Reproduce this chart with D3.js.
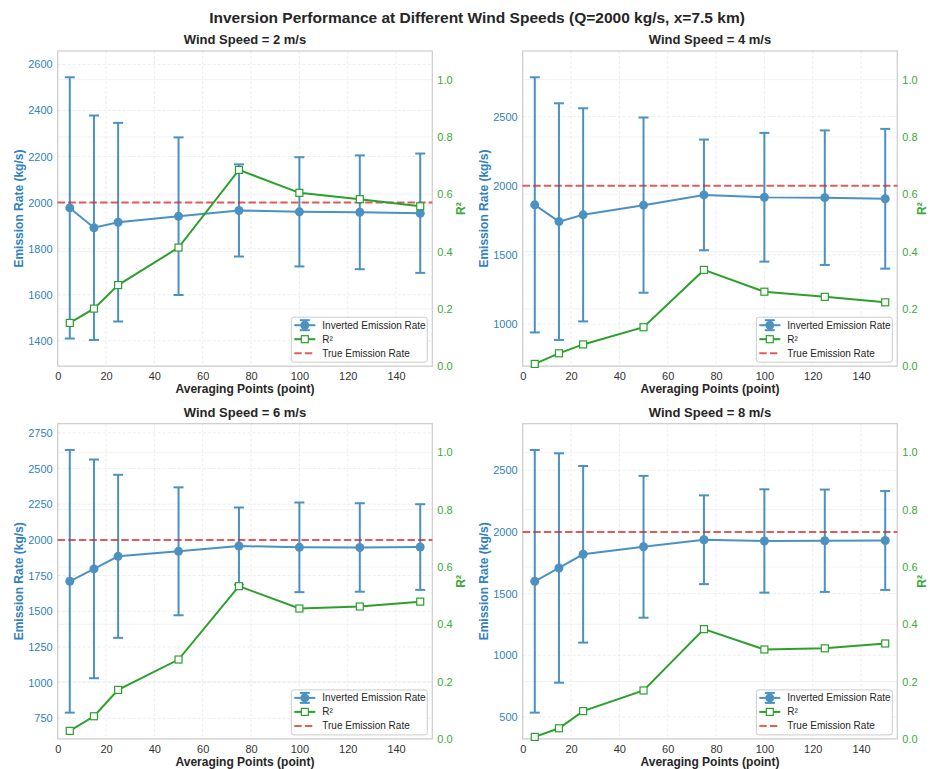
<!DOCTYPE html>
<html>
<head>
<meta charset="utf-8">
<script src="https://cdn.jsdelivr.net/npm/d3@7"></script>
<style>
  body { margin: 0; background: #fff; }
</style>
</head>
<body>
<div id="chart"></div>
<script>
// data
var points = [5, 15, 25, 50, 75, 100, 125, 150];
var windSpeeds = [2, 4, 6, 8];
var trueRate = 2000;

var rate2 = [1977, 1891, 1915, 1941, 1966, 1960, 1958, 1954];
var err2  = [567, 487, 431, 342, 200, 237, 247, 259];
var r2_2  = [0.151, 0.201, 0.283, 0.414, 0.685, 0.605, 0.583, 0.558];

var rate4 = [1862, 1741, 1790, 1860, 1934, 1917, 1914, 1906];
var err4  = [922, 855, 770, 633, 400, 465, 486, 505];
var r2_4  = [0.008, 0.045, 0.076, 0.136, 0.336, 0.260, 0.242, 0.223];

var rate6 = [1710, 1797, 1885, 1920, 1957, 1948, 1947, 1950];
var err6  = [920, 766, 571, 448, 270, 314, 310, 300];
var r2_6  = [0.028, 0.079, 0.171, 0.277, 0.533, 0.455, 0.462, 0.479];

var rate8 = [1600, 1708, 1819, 1880, 1937, 1927, 1929, 1931];
var err8  = [1065, 930, 716, 575, 360, 419, 415, 401];
var r2_8  = [0.007, 0.037, 0.097, 0.169, 0.383, 0.312, 0.316, 0.333];

var xTicks = [0, 20, 40, 60, 80, 100, 120, 140];
var r2Ticks = [0, 0.2, 0.4, 0.6, 0.8, 1.0];
var rateTicks2 = [1400, 1600, 1800, 2000, 2200, 2400, 2600];
var rateTicks4 = [1000, 1500, 2000, 2500];
var rateTicks6 = [750, 1000, 1250, 1500, 1750, 2000, 2250, 2500, 2750];
var rateTicks8 = [500, 1000, 1500, 2000, 2500];

var legendLabels = ["Inverted Emission Rate", "R\u00b2", "True Emission Rate"];

var rates = [rate2, rate4, rate6, rate8];
var errs = [err2, err4, err6, err8];
var r2s = [r2_2, r2_4, r2_6, r2_8];
var rateTicks = [rateTicks2, rateTicks4, rateTicks6, rateTicks8];

var blue = "#1f77b4", green = "#2ca02c", red = "#d62728";
var font = "'Liberation Sans', Arial, Helvetica, sans-serif";

var svg = d3.select("#chart").append("svg")
  .attr("width", 930)
  .attr("height", 769)
  .style("font-family", font);

svg.append("text")
  .attr("x", 477).attr("y", 23)
  .attr("text-anchor", "middle")
  .attr("font-size", 15.5).attr("font-weight", "bold").attr("fill", "#262626")
  .text("Inversion Performance at Different Wind Speeds (Q=2000 kg/s, x=7.5 km)");

// plot area boxes
var lefts = [57.7, 522.7, 57.7, 522.7];
var tops = [51, 51, 423.7, 423.7];
var pw = 374.6, ph = 315.2;

windSpeeds.forEach(function(ws, i) {
  var g = svg.append("g").attr("transform", "translate(" + lefts[i] + "," + tops[i] + ")");
  var rate = rates[i], err = errs[i], r2 = r2s[i];

  var x = d3.scaleLinear().domain([0, 155]).range([0, pw]);
  var lo = d3.min(rate, function(d, k) { return d - err[k]; });
  var hi = d3.max(rate, function(d, k) { return d + err[k]; });
  var pad = (hi - lo) * 0.1;
  var y = d3.scaleLinear().domain([lo - pad, hi + pad]).range([ph, 0]);
  var y2 = d3.scaleLinear().domain([0, 1.1]).range([ph, 0]);

  // grid
  g.selectAll(".gr2").data(r2Ticks).enter().append("line")
    .attr("x1", 0).attr("x2", pw)
    .attr("y1", function(d) { return y2(d); }).attr("y2", function(d) { return y2(d); })
    .attr("stroke", "#f2f2f2").attr("stroke-width", 1);
  g.selectAll(".gy").data(rateTicks[i]).enter().append("line")
    .attr("x1", 0).attr("x2", pw)
    .attr("y1", function(d) { return y(d); }).attr("y2", function(d) { return y(d); })
    .attr("stroke", "#e8e8e8").attr("stroke-width", 0.8).attr("stroke-dasharray", "3,2");
  g.selectAll(".gx").data(xTicks).enter().append("line")
    .attr("y1", 0).attr("y2", ph)
    .attr("x1", function(d) { return x(d); }).attr("x2", function(d) { return x(d); })
    .attr("stroke", "#e8e8e8").attr("stroke-width", 0.8).attr("stroke-dasharray", "3,2");

  // axes
  var ax = g.append("g").attr("transform", "translate(0," + ph + ")")
    .call(d3.axisBottom(x).tickValues(xTicks).tickSize(0).tickPadding(6));
  ax.selectAll("text").attr("fill", "#333").attr("font-size", 11).attr("font-family", font);
  var ay = g.append("g").call(d3.axisLeft(y).tickValues(rateTicks[i]).tickSize(0).tickPadding(5).tickFormat(d3.format("d")));
  ay.selectAll("text").attr("fill", "#3282bd").attr("font-size", 11).attr("font-family", font);
  var ay2 = g.append("g").attr("transform", "translate(" + pw + ",0)")
    .call(d3.axisRight(y2).tickValues(r2Ticks).tickSize(0).tickPadding(5).tickFormat(d3.format(".1f")));
  ay2.selectAll("text").attr("fill", "#3aaa3a").attr("font-size", 11).attr("font-family", font);
  g.selectAll(".domain").remove();

  g.append("rect").attr("width", pw).attr("height", ph)
    .attr("fill", "none").attr("stroke", "#cccccc").attr("stroke-width", 1.2);

  // error bars
  var eb = g.append("g").attr("opacity", 0.8);
  eb.selectAll(".ev").data(rate).enter().append("line")
    .attr("x1", function(d, k) { return x(points[k]); }).attr("x2", function(d, k) { return x(points[k]); })
    .attr("y1", function(d, k) { return y(d - err[k]); }).attr("y2", function(d, k) { return y(d + err[k]); })
    .attr("stroke", blue).attr("stroke-width", 2);
  [-1, 1].forEach(function(s) {
    eb.selectAll(".cap" + s).data(rate).enter().append("line")
      .attr("x1", function(d, k) { return x(points[k]) - 5; }).attr("x2", function(d, k) { return x(points[k]) + 5; })
      .attr("y1", function(d, k) { return y(d + s * err[k]); }).attr("y2", function(d, k) { return y(d + s * err[k]); })
      .attr("stroke", blue).attr("stroke-width", 2);
  });
  var line = d3.line().x(function(d, k) { return x(points[k]); }).y(function(d) { return y(d); });
  eb.append("path").datum(rate).attr("d", line)
    .attr("fill", "none").attr("stroke", blue).attr("stroke-width", 2);
  eb.selectAll(".dot").data(rate).enter().append("circle")
    .attr("cx", function(d, k) { return x(points[k]); }).attr("cy", function(d) { return y(d); })
    .attr("r", 4.5).attr("fill", blue);

  // true rate
  g.append("line").attr("x1", 0).attr("x2", pw)
    .attr("y1", y(trueRate)).attr("y2", y(trueRate))
    .attr("stroke", red).attr("stroke-width", 2).attr("stroke-opacity", 0.75)
    .attr("stroke-dasharray", "7.4,3.2");

  // R2
  var line2 = d3.line().x(function(d, k) { return x(points[k]); }).y(function(d) { return y2(d); });
  g.append("path").datum(r2).attr("d", line2)
    .attr("fill", "none").attr("stroke", green).attr("stroke-width", 2);
  g.selectAll(".sq").data(r2).enter().append("rect")
    .attr("x", function(d, k) { return x(points[k]) - 3.5; }).attr("y", function(d) { return y2(d) - 3.5; })
    .attr("width", 7).attr("height", 7)
    .attr("fill", "#fff").attr("stroke", green).attr("stroke-width", 1.2);

  // labels
  g.append("text").attr("x", pw / 2).attr("y", -7).attr("text-anchor", "middle")
    .attr("font-size", 13).attr("font-weight", "bold").attr("fill", "#262626")
    .text("Wind Speed = " + ws + " m/s");
  g.append("text").attr("x", pw / 2).attr("y", ph + 27).attr("text-anchor", "middle")
    .attr("font-size", 12).attr("font-weight", "bold").attr("fill", "#262626")
    .text("Averaging Points (point)");
  g.append("text").attr("transform", "translate(-35," + ph / 2 + ") rotate(-90)")
    .attr("text-anchor", "middle")
    .attr("font-size", 12).attr("font-weight", "bold").attr("fill", "#3282bd")
    .text("Emission Rate (kg/s)");
  var r2x = lefts[i] > 400 ? pw + 29 : pw + 33;
  g.append("text").attr("transform", "translate(" + r2x + "," + ph / 2 + ") rotate(-90)")
    .attr("text-anchor", "middle")
    .attr("font-size", 12).attr("font-weight", "bold").attr("fill", "#3aaa3a")
    .text("R\u00b2");

  // legend
  var lg = g.append("g").attr("transform", "translate(" + (pw - 141) + "," + (ph - 49) + ")");
  lg.append("rect").attr("width", 136).attr("height", 45).attr("rx", 2.5)
    .attr("fill", "#fff").attr("fill-opacity", 0.85).attr("stroke", "#cccccc");
  var rowY = [8, 22, 36];
  var h1 = lg.append("g").attr("opacity", 0.8);
  h1.append("line").attr("x1", 3).attr("x2", 24).attr("y1", rowY[0]).attr("y2", rowY[0])
    .attr("stroke", blue).attr("stroke-width", 2);
  h1.append("line").attr("x1", 13.5).attr("x2", 13.5).attr("y1", rowY[0] - 5).attr("y2", rowY[0] + 5)
    .attr("stroke", blue).attr("stroke-width", 2);
  [-5, 5].forEach(function(o) {
    h1.append("line").attr("x1", 8.5).attr("x2", 18.5).attr("y1", rowY[0] + o).attr("y2", rowY[0] + o)
      .attr("stroke", blue).attr("stroke-width", 2);
  });
  h1.append("circle").attr("cx", 13.5).attr("cy", rowY[0]).attr("r", 4.5).attr("fill", blue);
  lg.append("line").attr("x1", 3).attr("x2", 24).attr("y1", rowY[1]).attr("y2", rowY[1])
    .attr("stroke", green).attr("stroke-width", 2);
  lg.append("rect").attr("x", 10).attr("y", rowY[1] - 3.5).attr("width", 7).attr("height", 7)
    .attr("fill", "#fff").attr("stroke", green).attr("stroke-width", 1.2);
  lg.append("line").attr("x1", 3).attr("x2", 24).attr("y1", rowY[2]).attr("y2", rowY[2])
    .attr("stroke", red).attr("stroke-width", 2).attr("stroke-opacity", 0.75)
    .attr("stroke-dasharray", "7.4,3.2");
  lg.selectAll(".lt").data(legendLabels).enter().append("text")
    .attr("x", 31).attr("y", function(d, k) { return rowY[k] + 3.5; })
    .attr("font-size", 10).attr("fill", "#262626")
    .text(function(d) { return d; });
});
</script>
</body>
</html>
